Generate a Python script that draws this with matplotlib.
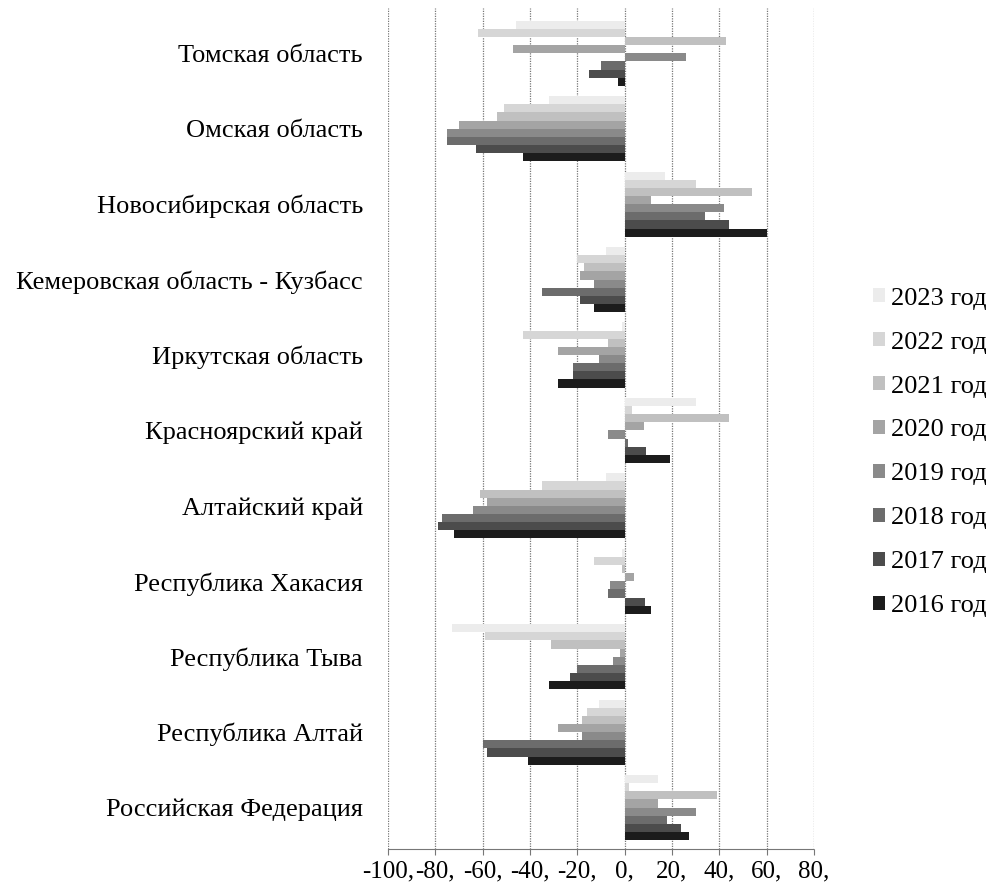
import matplotlib
matplotlib.use('Agg')
import matplotlib.pyplot as plt
import numpy as np

plt.rcParams['font.family'] = ['Liberation Serif', 'DejaVu Serif']

regions = ['Томская область', 'Омская область', 'Новосибирская область',
           'Кемеровская область - Кузбасс', 'Иркутская область', 'Красноярский край',
           'Алтайский край', 'Республика Хакасия', 'Республика Тыва',
           'Республика Алтай', 'Российская Федерация']
years = ['2023 год', '2022 год', '2021 год', '2020 год',
         '2019 год', '2018 год', '2017 год', '2016 год']

# values per year, regions in the order above
v2023 = [-46, -32, 17, -8, -1, 30, -8, -1, -73, -11, 14]
v2022 = [-62, -51, 30, -20, -43, 3, -35, -13, -59, -16, 2]
v2021 = [43, -54, 54, -17, -7, 44, -61, -1, -31, -18, 39]
v2020 = [-47, -70, 11, -19, -28, 8, -58, 4, -2, -28, 14]
v2019 = [26, -75, 42, -13, -11, -7, -64, -6, -5, -18, 30]
v2018 = [-10, -75, 34, -35, -22, 1.5, -77, -7, -20, -60, 18]
v2017 = [-15, -63, 44, -19, -22, 9, -79, 8.5, -23, -58, 24]
v2016 = [-3, -43, 60, -13, -28, 19, -72, 11, -32, -41, 27]

series = [v2023, v2022, v2021, v2020, v2019, v2018, v2017, v2016]
colors = ['#ececec', '#d6d6d6', '#c0c0c0', '#a4a4a4',
          '#8a8a8a', '#6c6c6c', '#4c4c4c', '#1c1c1c']
xticks = [-100, -80, -60, -40, -20, 0, 20, 40, 60, 80]

fig = plt.figure(figsize=(9.93, 8.94), dpi=100)
ax = fig.add_axes([0.3907, 0.0503, 0.429, 0.9407])

y = np.arange(len(regions))
h = 0.108
for i, (vals, lab, col) in enumerate(zip(series, years, colors)):
    ax.barh(y + (i - 3.5) * h, vals, height=h, color=col, label=lab,
            linewidth=0, zorder=2)

ax.set_xlim(-100, 80)
ax.set_ylim(len(regions) - 0.45, -0.6)
ax.set_xticks(xticks)
ax.set_xticklabels([f'{t},' for t in xticks], fontsize=18)
ax.set_yticks(y)
ax.set_yticklabels(regions, fontsize=19)
ax.tick_params(axis='y', length=0, pad=18)
ax.tick_params(axis='x', length=4, width=0.8, color='#777777', pad=4)

ax.grid(axis='x', linestyle=(0, (1, 1)), color='#777777', linewidth=0.9, zorder=0)
for s in ['top', 'right', 'left']:
    ax.spines[s].set_visible(False)
ax.spines['bottom'].set_color('#777777')
ax.spines['bottom'].set_linestyle((0, (2, 1)))

fig.legend(loc='center left', bbox_to_anchor=(0.861, 0.494), frameon=False,
           fontsize=19, handlelength=0.45, handleheight=0.45,
           handletextpad=0.2, labelspacing=0.83, borderpad=0.2)

plt.savefig('out.png', dpi=100)
